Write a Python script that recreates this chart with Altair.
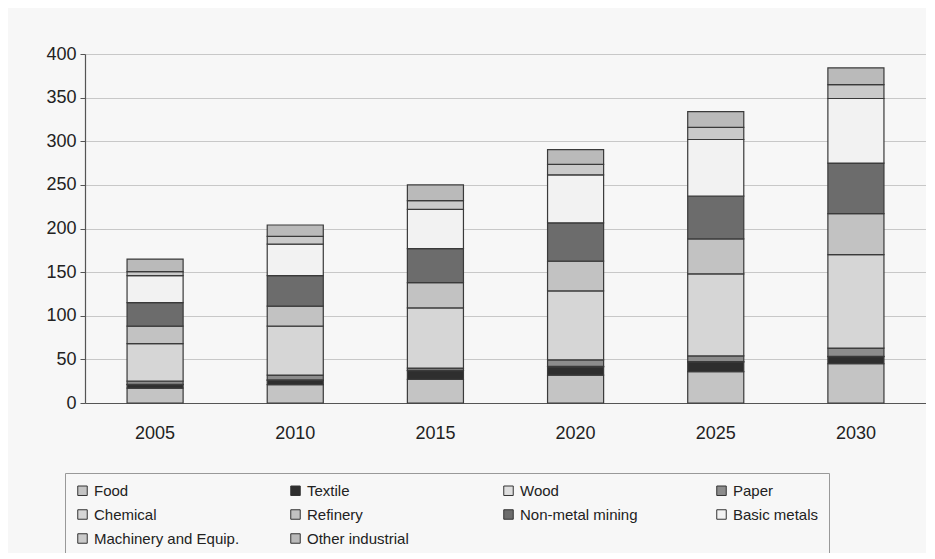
import altair as alt
import pandas as pd

years = ["2005", "2010", "2015", "2020", "2025", "2030"]
sectors = ["Food", "Textile", "Wood", "Paper", "Chemical", "Refinery",
           "Non-metal mining", "Basic metals", "Machinery and Equip.", "Other industrial"]

food = [17, 21, 27, 32, 36, 45]
textile = [4, 5, 10, 9.5, 11, 8]
wood = [0.5, 0.5, 0.5, 0.5, 0.5, 0.5]
paper = [3.5, 5.5, 2.5, 7.5, 6.5, 9.5]
chemical = [43, 56, 69, 79, 94, 107]
refinery = [20, 23, 29, 34, 40, 47]
nonmetal = [27, 35, 39, 44, 49, 58]
basic_metals = [31, 36, 45, 55, 65, 74]
machinery = [4.5, 9, 10, 12, 14, 16]
other = [14.5, 13, 18, 17, 18, 19]

series = [food, textile, wood, paper, chemical, refinery, nonmetal,
          basic_metals, machinery, other]
colors = ["#c4c4c4", "#2e2e2e", "#dedede", "#8c8c8c", "#d6d6d6", "#c2c2c2",
          "#6c6c6c", "#f2f2f2", "#cacaca", "#bababa"]

rows = []
for i, (name, vals) in enumerate(zip(sectors, series)):
    for y, v in zip(years, vals):
        rows.append({"Year": y, "Sector": name, "Value": v, "order": i})
df = pd.DataFrame(rows)

chart = alt.Chart(df).mark_bar(
    stroke="#3a3a3a", strokeWidth=1.2
).encode(
    x=alt.X("Year:N", title=None, sort=years,
            scale=alt.Scale(paddingInner=0.6, paddingOuter=0.3),
            axis=alt.Axis(labelAngle=0, labelFontSize=18, labelColor="#222",
                          ticks=False, labelPadding=21, domainColor="#555",
                          domainWidth=1.2)),
    y=alt.Y("Value:Q", title=None, stack="zero",
            scale=alt.Scale(domain=[0, 400]),
            axis=alt.Axis(values=list(range(0, 401, 50)), labelFontSize=18,
                          labelColor="#222", tickColor="#555", tickSize=5,
                          domainColor="#555", domainWidth=1.2,
                          gridColor="#c8c8c8", labelPadding=4)),
    color=alt.Color("Sector:N", sort=sectors,
                    scale=alt.Scale(domain=sectors, range=colors),
                    legend=alt.Legend(
                        title=None, orient="none", legendX=-20, legendY=419,
                        direction="horizontal",
                        columns=4, gridAlign="all", columnPadding=48,
                        rowPadding=8, symbolType="square", symbolSize=90,
                        symbolStrokeColor="#333", symbolStrokeWidth=1,
                        labelFontSize=15, labelColor="#222", labelOffset=4,
                        padding=10, strokeColor="#999", labelLimit=300)),
    order=alt.Order("order:Q", sort="ascending"),
).properties(
    width=841, height=349,
    autosize=alt.AutoSizeParams(type="none"),
    padding={"left": 77, "top": 46, "right": 0, "bottom": 150},
).configure(
    font="Liberation Sans",
    background="#f7f7f7",
).configure_view(stroke=None)

chart.save("out.html", embed_options={"renderer": "svg", "actions": False})
